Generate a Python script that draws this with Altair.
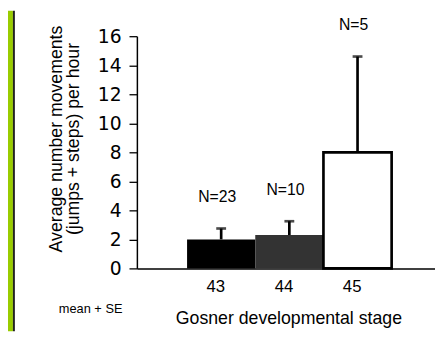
import altair as alt
import pandas as pd

stages = [43, 44, 45]
means = [2.0, 2.3, 8.0]
se = [0.75, 0.95, 6.6]
n_labels = ["N=23", "N=10", "N=5"]
y_ticks = [0, 2, 4, 6, 8, 10, 12, 14, 16]

df = pd.DataFrame({"stage": stages, "mean": means, "se": se, "n": n_labels})

base = alt.Chart(df).transform_calculate(
    lo="datum.stage - 0.5",
    hi="datum.stage + 0.5",
    upper="datum.mean + datum.se",
)

xscale = alt.Scale(domain=[41.764, 46.136], nice=False, zero=False)
yscale = alt.Scale(domain=[0, 16], nice=False)

xaxis = alt.Axis(
    values=stages, format="d", ticks=False, tickSize=0, grid=False,
    domainColor="black", domainWidth=1.5,
    labelFont="Liberation Sans", labelFontSize=17, labelColor="black",
    labelPadding=10, labelOffset=-6, labelOverlap=False,
    title="Gosner developmental stage", titleFont="Liberation Sans",
    titleFontSize=18, titleFontWeight="normal", titleColor="black",
    titleX=154, titleY=56, titleBaseline="alphabetic",
)
yaxis = alt.Axis(
    values=y_ticks, format="d", grid=False, tickSize=8, tickWidth=1.3, tickColor="black",
    domainColor="black", domainWidth=1.5,
    labelFont="DejaVu Sans", labelFontSize=19, labelColor="black",
    labelPadding=8, labelOverlap=False, labelBound=False,
    title=["Average number movements", "(jumps + steps) per hour"],
    titleFont="Liberation Sans", titleFontSize=18, titleFontWeight="normal",
    titleColor="black", titleX=-82, titleY=104, titleBaseline="middle",
    titleLineHeight=18,
)

bars = base.mark_rect().encode(
    x=alt.X("lo:Q", scale=xscale, axis=xaxis),
    x2="hi:Q",
    y=alt.Y("mean:Q", scale=yscale, axis=yaxis),
    y2=alt.datum(0),
    fill=alt.Fill("stage:N", scale=alt.Scale(domain=stages, range=["#000000", "#333333", "#ffffff"]), legend=None),
    stroke=alt.value("black"),
    strokeWidth=alt.condition("datum.stage == 45", alt.value(2.7), alt.value(0)),
)

xq = alt.X("stage:Q", scale=xscale, axis=xaxis)
err = base.mark_rule(color="black", strokeWidth=2.7).encode(
    x=xq, y=alt.Y("mean:Q", scale=yscale, axis=yaxis), y2="upper:Q"
)
caps = base.mark_tick(color="black", orient="horizontal", size=10, thickness=2.7).encode(
    x=xq, y=alt.Y("upper:Q", scale=yscale, axis=yaxis)
)
labels = base.mark_text(font="Liberation Sans", fontSize=16, color="black",
                        dy=-32, dx=-4, baseline="middle").encode(
    x=xq, y=alt.Y("upper:Q", scale=yscale, axis=yaxis), text="n:N"
)

note = alt.Chart(alt.Data(values=[{"t": "mean + SE"}])).mark_text(
    font="Liberation Sans", fontSize=13, color="black", baseline="middle"
).encode(x=alt.value(-47), y=alt.value(277), text="t:N")

strip = alt.Chart(alt.Data(values=[{}])).mark_rect(color="#99cc00").encode(
    x=alt.value(-131), x2=alt.value(-126), y=alt.value(-26), y2=alt.value(300)
)
strip_line = alt.Chart(alt.Data(values=[{}])).mark_rect(color="#222222").encode(
    x=alt.value(-126), x2=alt.value(-124), y=alt.value(-26), y2=alt.value(300)
)

chart = alt.layer(strip, strip_line, bars, err, caps, labels, note).properties(
    width=303, height=236,
    autosize=alt.AutoSizeParams(type="none"),
    padding={"left": 131, "top": 26, "right": 0, "bottom": 64},
    background="white",
).configure_view(strokeWidth=0)

chart.save("out.html", embed_options={"renderer": "svg", "actions": False})
